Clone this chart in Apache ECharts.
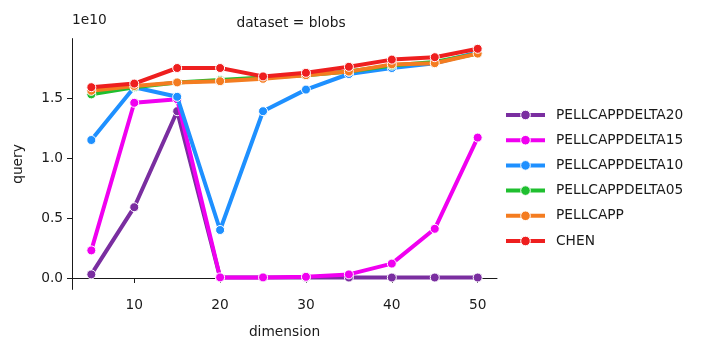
<!DOCTYPE html>
<html>
<head>
<meta charset="utf-8">
<script src="https://cdn.jsdelivr.net/npm/echarts@6/dist/echarts.min.js"></script>
<style>
  html,body{margin:0;padding:0;background:#fff;}
  #main{width:710px;height:338px;}
</style>
</head>
<body>
<div id="main"></div>
<script>
// values are in units of 1e10 (the axis offset label says so)
let dims = [5, 10, 15, 20, 25, 30, 35, 40, 45, 50]
let delta20 = [0.03, 0.59, 1.39, 0.005, 0.004, 0.004, 0.004, 0.004, 0.004, 0.004]
let delta15 = [0.23, 1.46, 1.49, 0.005, 0.005, 0.01, 0.03, 0.12, 0.41, 1.17]
let delta10 = [1.15, 1.59, 1.51, 0.40, 1.39, 1.57, 1.70, 1.75, 1.79, 1.88]
let delta05 = [1.53, 1.59, 1.63, 1.65, 1.67, 1.69, 1.72, 1.77, 1.80, 1.87]
let pellcapp = [1.56, 1.60, 1.63, 1.64, 1.66, 1.69, 1.72, 1.78, 1.79, 1.87]
let chen = [1.59, 1.62, 1.75, 1.75, 1.68, 1.71, 1.76, 1.82, 1.84, 1.91]
let xTicks = [10, 20, 30, 40, 50]
let yTicks = [0, 0.5, 1.0, 1.5]

let names = ['PELLCAPPDELTA20','PELLCAPPDELTA15','PELLCAPPDELTA10','PELLCAPPDELTA05','PELLCAPP','CHEN']
let colors = ['#7a2ea0','#f000f0','#1e90ff','#1fbf2f','#f47c20','#ee1f1f']
let values = [delta20, delta15, delta10, delta05, pellcapp, chen]

let font = 'DejaVu Sans'
let fs = 13.75
let chart = echarts.init(document.getElementById('main'), null, {renderer:'canvas'})

let series = names.map(function(n, i){
  return {
    name: n,
    type: 'line',
    data: dims.map(function(d, j){ return [d, values[i][j]] }),
    symbol: 'circle',
    symbolSize: 9,
    color: colors[i],
    lineStyle: {width: 4, color: colors[i]},
    itemStyle: {color: colors[i], borderColor: '#fff', borderWidth: 1},
    emphasis: {disabled: true},
    animation: false,
    z: 2 + i
  }
})

let option = {
  animation: false,
  title: {
    text: 'dataset = blobs',
    left: 286, top: 11, textAlign: 'center',
    textStyle: {fontFamily: font, fontSize: fs, fontWeight: 'normal', color: '#1a1a1a'}
  },
  grid: {left: 72, right: 213, top: 38.6, bottom: 48.6, containLabel: false, outerBoundsMode: 'none'},
  xAxis: {
    type: 'value',
    min: 2.75, max: 52.25,
    name: 'dimension',
    nameLocation: 'middle',
    nameGap: 36,
    nameTextStyle: {fontFamily: font, fontSize: fs, color: '#1a1a1a'},
    splitLine: {show: false},
    axisLine: {show: true, lineStyle: {color: '#1a1a1a', width: 1}},
    axisTick: {show: true, length: 5, customValues: xTicks, lineStyle: {color: '#1a1a1a'}},
    axisLabel: {customValues: xTicks, fontFamily: font, fontSize: fs, color: '#1a1a1a', margin: 9}
  },
  yAxis: {
    type: 'value',
    min: -0.095, max: 1.995,
    name: 'query',
    nameLocation: 'middle',
    nameGap: 47,
    nameTextStyle: {fontFamily: font, fontSize: fs, color: '#1a1a1a'},
    splitLine: {show: false},
    axisLine: {show: true, lineStyle: {color: '#1a1a1a', width: 1}},
    axisTick: {show: true, length: 5, customValues: yTicks, lineStyle: {color: '#1a1a1a'}},
    axisLabel: {
      customValues: yTicks, fontFamily: font, fontSize: fs, color: '#1a1a1a', margin: 9,
      formatter: function(v){ return v.toFixed(1) }
    }
  },
  legend: {
    orient: 'vertical',
    left: 504, top: 108,
    padding: 0,
    itemWidth: 39, itemHeight: 12,
    itemGap: 11.2,
    lineStyle: {width: 4},
    itemStyle: {borderColor: '#fff', borderWidth: 1},
    textStyle: {fontFamily: font, fontSize: fs, color: '#1a1a1a', padding: [0,0,0,6]},
    data: names
  },
  graphic: [{
    type: 'text', left: 72, top: 13,
    style: {text: '1e10', font: fs + 'px "DejaVu Sans"', fill: '#1a1a1a'}
  }],
  series: series
}
chart.setOption(option)
</script>
</body>
</html>
